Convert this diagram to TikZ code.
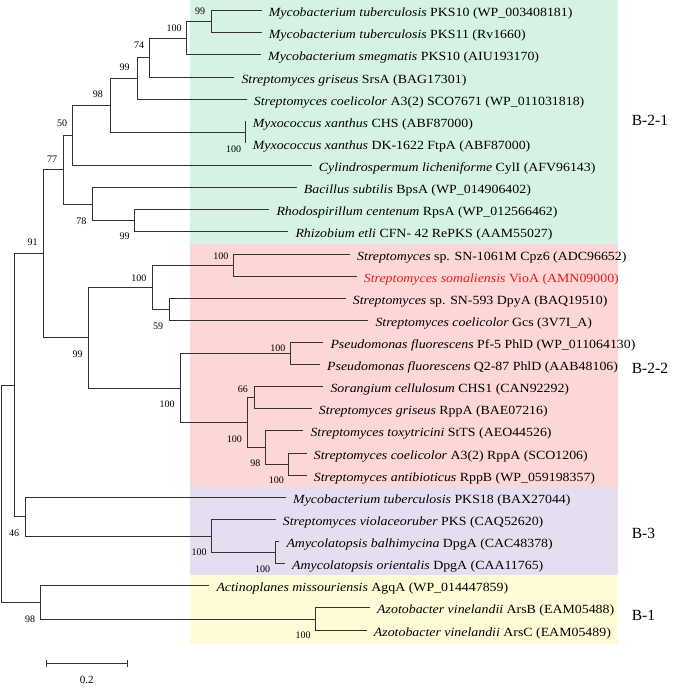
\documentclass[tikz,border=0pt]{standalone}
\usepackage{fontspec}
\setmainfont{Liberation Serif}
\newfontfamily\leaffont{Liberation Serif}[FakeStretch=1.11]
\definecolor{grpgreen}{RGB}{214,242,227}
\definecolor{grppink}{RGB}{253,214,214}
\definecolor{grplav}{RGB}{228,222,240}
\definecolor{grpyellow}{RGB}{254,252,214}
\definecolor{viored}{RGB}{232,28,28}
\tikzset{
  branch/.style={line width=1pt,draw=black!80},
  leaf/.style={anchor=base west,inner sep=0pt,xshift=7pt,yshift=-6pt,font=\leaffont\fontsize{12.5}{14}\selectfont},
  boot/.style={inner sep=0pt,font=\fontsize{10}{11}\selectfont},
  clade/.style={anchor=west,inner sep=0pt,font=\fontsize{15.5}{18}\selectfont}
}
\begin{document}
\begin{tikzpicture}[x=1pt,y=-1pt]
                \useasboundingbox (0,0) rectangle (685,687);
                \fill[grpgreen] (190,0) rectangle (618.3,244);
                \fill[grppink] (190,244) rectangle (618.3,486.7);
                \fill[grplav] (190,486.7) rectangle (618.3,575);
                \fill[grpyellow] (190,575) rectangle (618.3,644);
                \node[clade] (g1) at (631.7,120.7) {B-2-1};
                \node[clade] (g2) at (631.7,368.3) {B-2-2};
                \node[clade] (g3) at (631.7,533.5) {B-3};
                \node[clade] (g4) at (631.7,615) {B-1};
                % leaves
                \foreach \i/\xe/\txt in {
                    1/261.7/{\textit{Mycobacterium tuberculosis} PKS10 (WP\_003408181)},
                    2/261.7/{\textit{Mycobacterium tuberculosis} PKS11 (Rv1660)},
                    3/261/{\textit{Mycobacterium smegmatis} PKS10 (AIU193170)},
                    4/234.3/{\textit{Streptomyces griseus} SrsA (BAG17301)},
                    5/246.7/{\textit{Streptomyces coelicolor} A3(2) SCO7671 (WP\_011031818)},
                    6/245.7/{\textit{Myxococcus xanthus} CHS (ABF87000)},
                    7/245.7/{\textit{Myxococcus xanthus} DK-1622 FtpA (ABF87000)},
                    8/311.7/{\textit{Cylindrospermum licheniforme} CylI (AFV96143)},
                    9/296.7/{\textit{Bacillus subtilis} BpsA (WP\_014906402)},
                    10/269.3/{\textit{Rhodospirillum centenum} RpsA (WP\_012566462)},
                    11/288.3/{\textit{Rhizobium etli} CFN- 42 RePKS (AAM55027)},
                    12/350/{\textit{Streptomyces} sp. SN-1061M Cpz6 (ADC96652)},
                    13/356.7/{\color{viored}\textit{Streptomyces somaliensis} VioA (AMN09000)},
                    14/345.7/{\textit{Streptomyces} sp. SN-593 DpyA (BAQ19510)},
                    15/368.3/{\textit{Streptomyces coelicolor} Gcs (3V7I\_A)},
                    16/323.3/{\textit{Pseudomonas fluorescens} Pf-5 PhlD (WP\_011064130)},
                    17/320/{\textit{Pseudomonas fluorescens} Q2-87 PhlD (AAB48106)},
                    18/323.3/{\textit{Sorangium cellulosum} CHS1 (CAN92292)},
                    19/311.7/{\textit{Streptomyces griseus} RppA (BAE07216)},
                    20/303.3/{\textit{Streptomyces toxytricini} StTS (AEO44526)},
                    21/306.7/{\textit{Streptomyces coelicolor} A3(2) RppA (SCO1206)},
                    22/306.7/{\textit{Streptomyces antibioticus} RppB (WP\_059198357)},
                    23/286/{\textit{Mycobacterium tuberculosis} PKS18 (BAX27044)},
                    24/275.7/{\textit{Streptomyces violaceoruber} PKS (CAQ52620)},
                    25/279.3/{\textit{Amycolatopsis balhimycina} DpgA (CAC48378)},
                    26/285/{\textit{Amycolatopsis orientalis} DpgA (CAA11765)},
                    27/209.3/{\textit{Actinoplanes missouriensis} AgqA (WP\_014447859)},
                    28/370/{\textit{Azotobacter vinelandii} ArsB (EAM05488)},
                    29/366.7/{\textit{Azotobacter vinelandii} ArsC (EAM05489)}}{
                    \pgfmathsetmacro\yy{10.7+(\i-1)*22.12}
                    \coordinate (l\i) at (\xe,\yy);
                    \node[leaf] (t\i) at (l\i) {\txt};
                }
                % inner nodes
                \coordinate (n1) at (211,21.75);
                \coordinate (n2) at (186,38.3);
                \coordinate (n3) at (149,57.7);
                \coordinate (n4) at (137,78.45);
                \coordinate (mx) at (245.7,132.35);
                \coordinate (n5) at (110,105.4);
                \coordinate (n6) at (72,135.45);
                \coordinate (rr) at (134,220.85);
                \coordinate (bb) at (92,204.3);
                \coordinate (n77) at (63,169.9);
                \coordinate (s1) at (233,265.05);
                \coordinate (s2) at (169,309.35);
                \coordinate (s3) at (152,287.2);
                \coordinate (p1) at (290.7,353.55);
                \coordinate (r1) at (254,397.8);
                \coordinate (r2) at (288,464.2);
                \coordinate (r3) at (265.7,447.6);
                \coordinate (r4) at (247,422.7);
                \coordinate (r5) at (180,388.1);
                \coordinate (n99) at (88,337.65);
                \coordinate (n91) at (43,253.8);
                \coordinate (a1) at (275.5,552.7);
                \coordinate (a2) at (211.7,536.1);
                \coordinate (n46) at (25,516.75);
                \coordinate (nA) at (14,385.3);
                \coordinate (z1) at (315.7,619.05);
                \coordinate (n98) at (40.7,602.5);
                \coordinate (root) at (1.5,493.9);
                \draw[branch] (n1) |- (l1) (n1) |- (l2)
                    (n2) |- (n1) (n2) |- (l3)
                    (n3) |- (n2) (n3) |- (l4)
                    (n4) |- (n3) (n4) |- (l5)
                    (mx) |- (l6) (mx) |- (l7)
                    (n5) |- (n4) (n5) |- (mx)
                    (n6) |- (n5) (n6) |- (l8)
                    (rr) |- (l10) (rr) |- (l11)
                    (bb) |- (l9) (bb) |- (rr)
                    (n77) |- (n6) (n77) |- (bb)
                    (s1) |- (l12) (s1) |- (l13)
                    (s2) |- (l14) (s2) |- (l15)
                    (s3) |- (s1) (s3) |- (s2)
                    (p1) |- (l16) (p1) |- (l17)
                    (r1) |- (l18) (r1) |- (l19)
                    (r2) |- (l21) (r2) |- (l22)
                    (r3) |- (l20) (r3) |- (r2)
                    (r4) |- (r1) (r4) |- (r3)
                    (r5) |- (p1) (r5) |- (r4)
                    (n99) |- (s3) (n99) |- (r5)
                    (n91) |- (n77) (n91) |- (n99)
                    (a1) |- (l25) (a1) |- (l26)
                    (a2) |- (l24) (a2) |- (a1)
                    (n46) |- (l23) (n46) |- (a2)
                    (nA) |- (n91) (nA) |- (n46)
                    (z1) |- (l28) (z1) |- (l29)
                    (n98) |- (l27) (n98) |- (z1)
                    (root) |- (nA) (root) |- (n98);
                % bootstrap values
                \foreach \v/\bx/\by [count=\k] in {99/200/10.8, 100/174/28.3, 74/139/45.7,
                    99/124.7/67.3, 98/97.8/94, 100/233.7/149, 50/62/123.3, 77/52/159.3,
                    78/81.3/221.7, 99/124.7/236.7, 91/32.5/242.3, 100/220.8/256.3,
                    100/138.8/278, 59/158/326.3, 99/77.5/354.3, 100/277.8/348,
                    66/242.8/389.5, 100/167/404.7, 100/234.3/439.3, 98/255.3/463.7,
                    100/276.3/480.3, 46/14.2/533.3, 100/199.2/552.5, 100/262.5/569.2,
                    98/30.2/619.7, 100/303.2/635.3}
                    \node[boot] (b\k) at (\bx,\by) {\v};
                % scale bar
                \coordinate (sc0) at (46.7,663.3);
                \coordinate (sc1) at (127.7,663.3);
                \draw[branch] (sc0) -- (sc1);
                \draw[branch] ([yshift=3.7pt]sc0) -- ([yshift=-3.7pt]sc0);
                \draw[branch] ([yshift=3.7pt]sc1) -- ([yshift=-3.7pt]sc1);
                \node[inner sep=0pt,font=\fontsize{11}{13}\selectfont] (scl) at (86.7,680.3) {0.2};
            \end{tikzpicture}
\end{document}
